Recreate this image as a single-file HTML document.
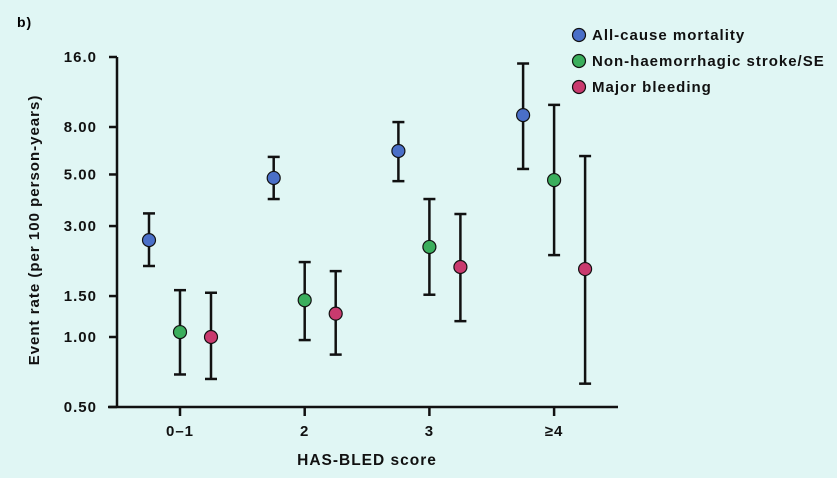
<!DOCTYPE html>
<html><head><meta charset="utf-8"><style>
body{margin:0;background:#e0f6f4;}
svg{display:block;font-family:"Liberation Sans",sans-serif;font-weight:bold;letter-spacing:1px;}
</style></head><body>
<svg id="c" width="837" height="478">
<rect width="837" height="478" fill="#e0f6f4"/>
<text x="17" y="27" font-size="14">b)</text>
</svg>
<script>
const categories=["0–1","2","3","≥4"];
const seriesNames=["All-cause mortality","Non-haemorrhagic stroke/SE","Major bleeding"];
const seriesColors=["#4a6fc8","#3aae5c","#c93a6e"];
const mortality=[2.61,4.83,6.31,9.0];
const mortalityLo=[2.02,3.92,4.68,5.28];
const mortalityHi=[3.4,5.95,8.4,15.0];
const stroke=[1.05,1.44,2.44,4.73];
const strokeLo=[0.69,0.97,1.52,2.25];
const strokeHi=[1.59,2.1,3.92,9.96];
const bleeding=[1.0,1.26,2.0,1.96];
const bleedingLo=[0.66,0.84,1.17,0.63];
const bleedingHi=[1.55,1.92,3.38,6.0];
const yTicks=[0.5,1,1.5,3,5,8,16];
const yTickLabels=["0.50","1.00","1.50","3.00","5.00","8.00","16.0"];

const NS="http://www.w3.org/2000/svg";
const svg=document.getElementById('c');
function y(v){return 407-70*Math.log2(v/0.5);}
function x(i){return 180+124.7*i;}
function mk(t,a,txt){const e=document.createElementNS(NS,t);for(const k in a)e.setAttribute(k,a[k]);if(txt!=null)e.textContent=txt;svg.appendChild(e);return e;}

let e=mk('line',{x1:117,y1:57,x2:117,y2:407,stroke:'#111','stroke-width':2.5});


e=mk('line',{x1:108,y1:407,x2:618,y2:407,stroke:'#111','stroke-width':2.5});


yTicks.forEach((v,i)=>{
 e=mk('line',{x1:109,y1:y(v),x2:117,y2:y(v),stroke:'#111','stroke-width':2.5});
 
 
 e=mk('text',{x:97,y:y(v)+5,'font-size':15,'text-anchor':'end',fill:'#111'},yTickLabels[i]);
 
 
});
categories.forEach((c,i)=>{
 e=mk('line',{x1:x(i),y1:407,x2:x(i),y2:416,stroke:'#111','stroke-width':2.5});
 
 
 e=mk('text',{x:x(i),y:436,'font-size':15,'text-anchor':'middle',fill:'#111'},c);
 
 
});
e=mk('text',{x:367,y:465,'font-size':15.5,'text-anchor':'middle',fill:'#111'},'HAS-BLED score');


e=mk('text',{x:0,y:0,'font-size':15,'text-anchor':'middle',fill:'#111',transform:'translate(39,230) rotate(-90)'},'Event rate (per 100 person-years)');



const S=[[mortality,mortalityLo,mortalityHi],[stroke,strokeLo,strokeHi],[bleeding,bleedingLo,bleedingHi]];
S.forEach((s,k)=>{
 s[0].forEach((v,i)=>{
  const cx=x(i)+(k-1)*31;
  e=mk('line',{x1:cx,y1:y(s[1][i]),x2:cx,y2:y(s[2][i]),stroke:'#111','stroke-width':2.5});
  
  
  [s[1][i],s[2][i]].forEach(w=>{
   e=mk('line',{x1:cx-6,y1:y(w),x2:cx+6,y2:y(w),stroke:'#111','stroke-width':2.5});
   
   
  });
  e=mk('circle',{cx:cx,cy:y(v),r:6.5,fill:seriesColors[k],stroke:'#111','stroke-width':1.2});
  
  
 });
});
seriesNames.forEach((n,k)=>{
 const ly=35+26*k;
 e=mk('circle',{cx:579,cy:ly,r:6.5,fill:seriesColors[k],stroke:'#111','stroke-width':1.2});
 
 
 e=mk('text',{x:592,y:ly+5,'font-size':15,fill:'#111'},n);
 
 
});
</script>
</body></html>
